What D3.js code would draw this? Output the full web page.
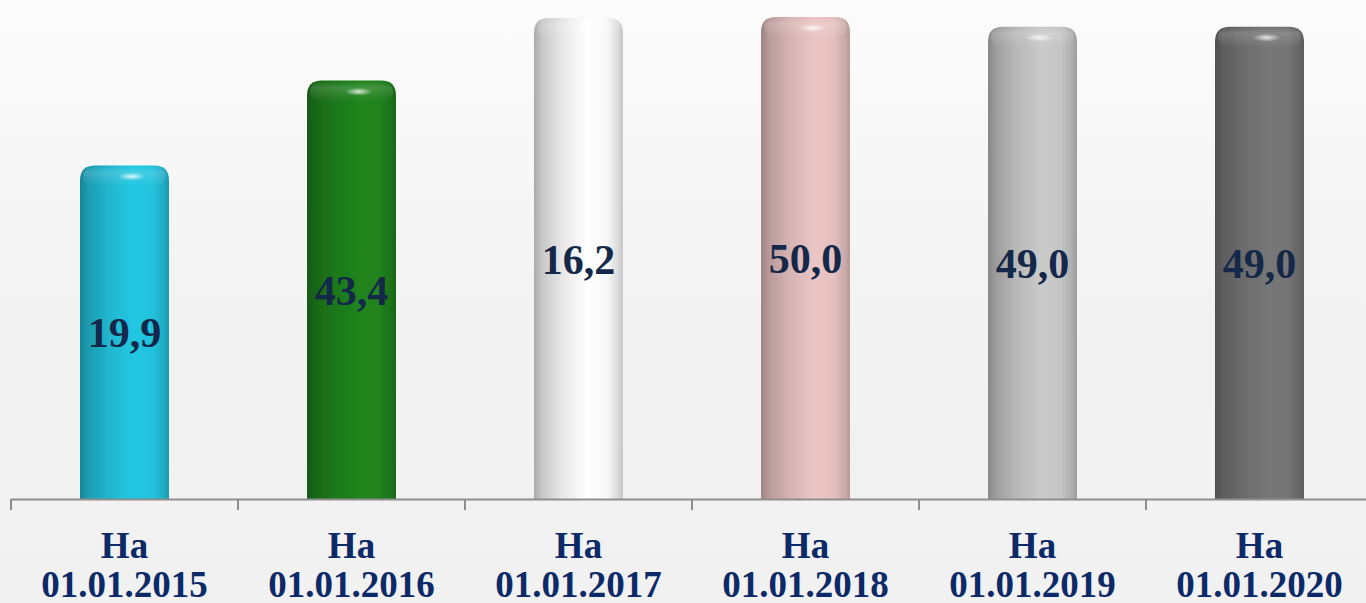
<!DOCTYPE html>
<html>
<head>
<meta charset="utf-8">
<script src="https://cdn.jsdelivr.net/npm/d3@7"></script>
<style>
  html, body { margin: 0; padding: 0; overflow: hidden; }
  svg { display: block; }
</style>
</head>
<body>
<svg id="chart" width="1366" height="603"></svg>
<script>
// chart data
var dates = ["01.01.2015", "01.01.2016", "01.01.2017", "01.01.2018", "01.01.2019", "01.01.2020"];
var heights = [34.6, 43.4, 49.9, 50.0, 49.0, 49.0];   // plotted bar heights
var valueLabels = ["19,9", "43,4", "16,2", "50,0", "49,0", "49,0"];
var barColors = ["#22bfd9", "#1f7f1c", "#f4f4f4", "#e2bdbd", "#c2c2c2", "#727272"];

var svg = d3.select("#chart");
var W = 1366, H = 603;
var baseY = 499;

var x = d3.scaleBand().domain(dates).range([11, 1373]).padding(0);
var y = d3.scaleLinear().domain([0, 50]).range([baseY, 17]);
var barW = 89;

var defs = svg.append("defs");

// background
var bg = defs.append("linearGradient").attr("id", "bg")
    .attr("x1", 0).attr("y1", 0).attr("x2", 0).attr("y2", 1);
bg.append("stop").attr("offset", 0).attr("stop-color", "#fbfbfb");
bg.append("stop").attr("offset", 0.5).attr("stop-color", "#f3f3f3");
bg.append("stop").attr("offset", 1).attr("stop-color", "#f1f1f1");
svg.append("rect").attr("width", W).attr("height", H).attr("fill", "url(#bg)");

// cylinder shading per bar
barColors.forEach(function(c, i){
    var col = d3.color(c);
    var g = defs.append("linearGradient").attr("id", "bar" + i)
        .attr("x1", 0).attr("y1", 0).attr("x2", 1).attr("y2", 0);
    var stops = [
        [0, col.darker(1.0)],
        [0.1, col.darker(0.55)],
        [0.32, col.darker(0.15)],
        [0.6, col.brighter(0.12)],
        [0.82, col.brighter(0.05)],
        [0.94, col.darker(0.3)],
        [1, col.darker(0.6)]
    ];
    stops.forEach(function(s){
        g.append("stop").attr("offset", s[0]).attr("stop-color", s[1].formatHex());
    });
});

var cap = defs.append("linearGradient").attr("id", "cap")
    .attr("x1", 0).attr("y1", 0).attr("x2", 0).attr("y2", 1);
cap.append("stop").attr("offset", 0).attr("stop-color", "#fff").attr("stop-opacity", 0.0);
cap.append("stop").attr("offset", 0.3).attr("stop-color", "#fff").attr("stop-opacity", 0.15);
cap.append("stop").attr("offset", 1).attr("stop-color", "#fff").attr("stop-opacity", 0);

var glow = defs.append("radialGradient").attr("id", "glow");
glow.append("stop").attr("offset", 0).attr("stop-color", "#fff").attr("stop-opacity", 0.8);
glow.append("stop").attr("offset", 1).attr("stop-color", "#fff").attr("stop-opacity", 0);

var blur = defs.append("filter").attr("id", "soft")
    .attr("x", "-10%").attr("y", "-10%").attr("width", "120%").attr("height", "120%");
blur.append("feGaussianBlur").attr("stdDeviation", 0.6);

function barX(d){ return x(d) + (x.bandwidth() - barW) / 2; }

var bars = svg.append("g").selectAll("g").data(dates).join("g");

bars.append("path")
    .attr("fill", function(d, i){ return "url(#bar" + i + ")"; })
    .attr("filter", "url(#soft)")
    .attr("d", function(d, i){
        var x0 = barX(d), x1 = x0 + barW, t = y(heights[i]), r = 15;
        return "M" + x0 + "," + baseY + "L" + x0 + "," + (t + r) +
            "Q" + x0 + "," + t + " " + (x0 + r) + "," + t +
            "L" + (x1 - r) + "," + t +
            "Q" + x1 + "," + t + " " + x1 + "," + (t + r) +
            "L" + x1 + "," + baseY + "Z";
    });

// soft top band
bars.append("rect")
    .attr("x", function(d){ return barX(d) + 3; })
    .attr("y", function(d, i){ return y(heights[i]) + 1; })
    .attr("width", barW - 6)
    .attr("height", 20)
    .attr("rx", 10)
    .attr("fill", "url(#cap)");

// highlight spot
bars.append("ellipse")
    .attr("cx", function(d){ return barX(d) + barW * 0.58; })
    .attr("cy", function(d, i){ return y(heights[i]) + 11; })
    .attr("rx", 14)
    .attr("ry", 4)
    .attr("fill", "url(#glow)");

// value labels
bars.append("text")
    .attr("x", function(d){ return x(d) + x.bandwidth() / 2; })
    .attr("y", function(d, i){ return (y(heights[i]) + baseY) / 2; })
    .attr("dy", "0.36em")
    .attr("text-anchor", "middle")
    .attr("font-family", "'Liberation Serif', 'Times New Roman', serif")
    .attr("font-weight", "bold")
    .attr("font-size", 42)
    .attr("fill", "#14284a")
    .text(function(d, i){ return valueLabels[i]; });

// axis
var axis = svg.append("g").attr("stroke", "#8e8e8e").attr("stroke-width", 2);
axis.append("line")
    .attr("x1", x.range()[0]).attr("x2", x.range()[1])
    .attr("y1", baseY + 0.5).attr("y2", baseY + 0.5);
var edges = dates.map(function(d){ return x(d); }).concat([x.range()[1]]);
axis.selectAll(".tick").data(edges).join("line")
    .attr("class", "tick")
    .attr("x1", function(d){ return d; }).attr("x2", function(d){ return d; })
    .attr("y1", baseY).attr("y2", baseY + 11);

var cats = svg.append("g").selectAll("text").data(dates).join("text")
    .attr("text-anchor", "middle")
    .attr("font-family", "'Liberation Serif', 'Times New Roman', serif")
    .attr("font-weight", "bold")
    .attr("font-size", 37)
    .attr("fill", "#0c2a68");
cats.append("tspan")
    .attr("x", function(d){ return x(d) + x.bandwidth() / 2; })
    .attr("y", 558)
    .text("На");
cats.append("tspan")
    .attr("x", function(d){ return x(d) + x.bandwidth() / 2; })
    .attr("y", 597)
    .text(function(d){ return d; });
</script>
</body>
</html>
